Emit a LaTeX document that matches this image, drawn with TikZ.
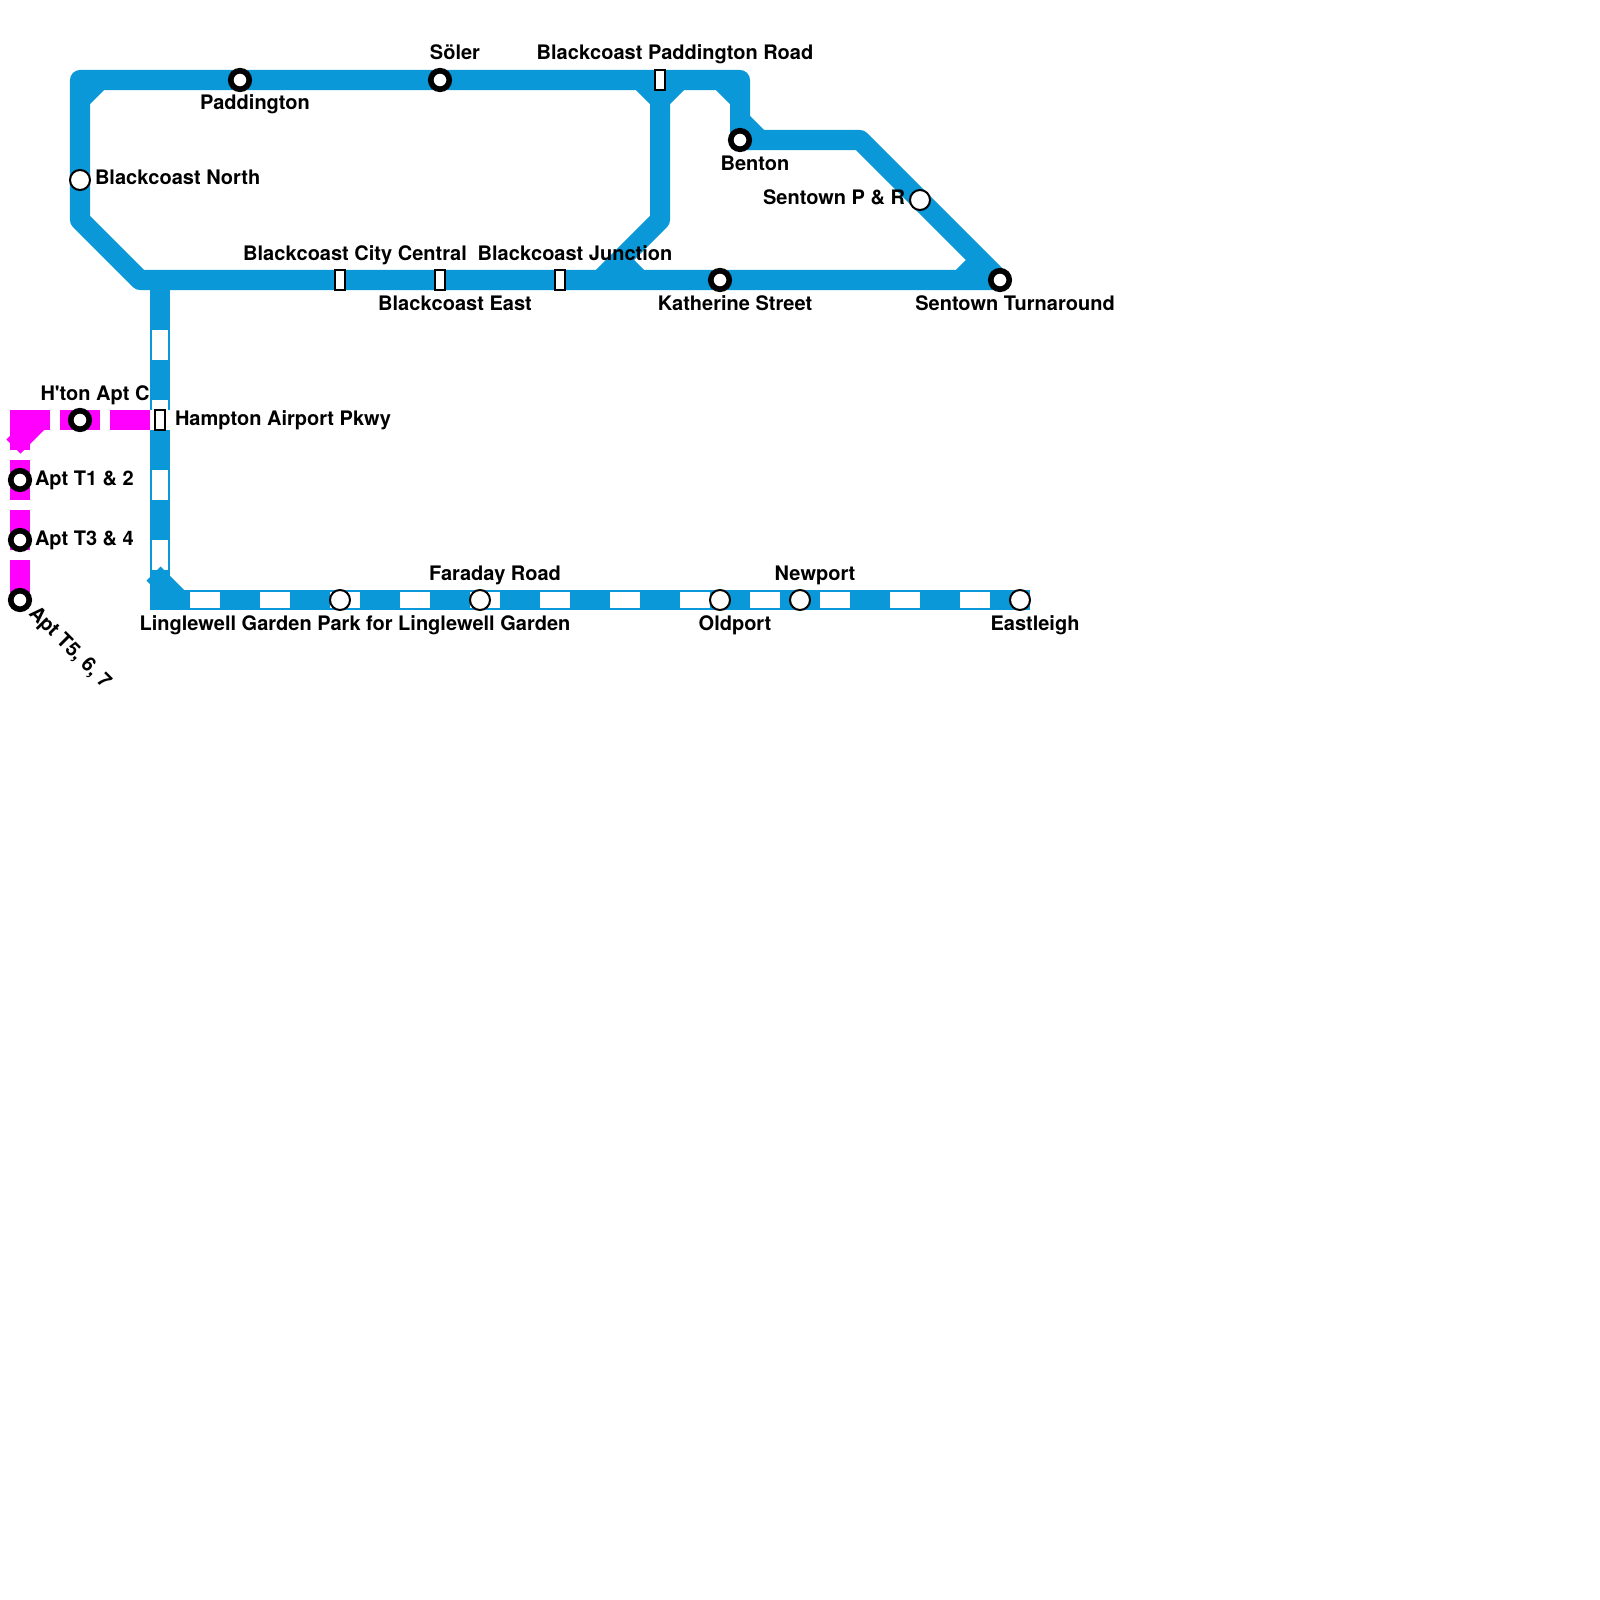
\documentclass[tikz,border=0pt]{standalone}
\usepackage{fontspec}
\usetikzlibrary{calc,backgrounds}
\newfontfamily\lblfont{TeX Gyre Heros}
\definecolor{lineblue}{HTML}{0A98D8}
\definecolor{linemag}{HTML}{FF00FF}
\tikzset{
lbl/.style={font=\lblfont\bfseries\fontsize{5.69pt}{6.8pt}\selectfont,text=black,inner sep=0pt,outer sep=0pt},
ic/.style={circle,draw=black,fill=white,line width=.056cm,minimum size=.185cm,inner sep=0pt,outer sep=0pt},
halt/.style={circle,draw=black,fill=white,line width=.02cm,minimum size=.2cm,inner sep=0pt,outer sep=0pt},
stn/.style={rectangle,draw=black,fill=white,line width=.018cm,minimum width=.1cm,minimum height=.2cm,inner sep=0pt,outer sep=0pt},
blue/.style={draw=lineblue,line width=.2cm,line join=round},
mag/.style={draw=linemag,line width=.2cm},
gapwhite/.style={draw=white,line width=.16cm,dash pattern=on .3cm off .4cm,dash phase=.4cm}
}
\begin{document}
\begin{tikzpicture}[x=.01cm,y=-.01cm]
\useasboundingbox (0,0) rectangle (1600,1600);
% stations
\foreach \n/\x/\y in {pad/240/80,soler/440/80,benton/740/140,kath/720/280,turn/1000/280,hton/80/420,t12/20/480,t34/20/540,t567/20/600}
\node[ic] (\n) at (\x,\y) {};
\foreach \n/\x/\y in {north/80/180,pr/920/200,ling/340/600,fara/480/600,old/720/600,newp/800/600,east/1020/600}
\node[halt] (\n) at (\x,\y) {};
\foreach \n/\x/\y in {padrd/660/80,city/340/280,beast/440/280,junc/560/280,pkwy/160/420}
\node[stn] (\n) at (\x,\y) {};
% labels above and below
\foreach \n/\t in {soler/Söler,padrd/Blackcoast Paddington Road,city/Blackcoast City Central,junc/Blackcoast Junction,hton/H'ton Apt C,fara/Faraday Road,newp/Newport}
\node[lbl,anchor=base] (\n-l) at ($(\n)+(15,-20)$) {\t};
\foreach \n/\t in {pad/Paddington,benton/Benton,beast/Blackcoast East,kath/Katherine Street,turn/Sentown Turnaround,ling/Linglewell Garden Park for Linglewell Garden,old/Oldport,east/Eastleigh}
\node[lbl,anchor=base] (\n-l) at ($(\n)+(15,30)$) {\t};
% labels at the side
\foreach \n/\t in {north/Blackcoast North,pkwy/Hampton Airport Pkwy,t12/Apt T1 \& 2,t34/Apt T3 \& 4}
\node[lbl,anchor=base west] (\n-l) at ($(\n)+(15,5)$) {\t};
\node[lbl,anchor=base east] (pr-l) at ($(pr)+(-15,5)$) {Sentown P \& R};
\node[lbl,anchor=base west,rotate=-45] (t567-l) at ($(t567)+(8,14)$) {Apt T5, 6, 7};
% corners
\foreach \n/\x/\y in {tl/80/80,tr/740/80,lb/80/220,bl/140/280,rt/860/140,rj/660/220,rb/600/280,
ca/80/100,cb/100/80,cc/640/80,cd/660/100,ce/680/80,cf/720/80,cg/740/100,ch/740/120,ci/760/140,
cj/620/260,ck/640/280,cl/960/280,cm/980/260,vt/160/280,vw/160/300,vb/160/600,he/1030/600,
hd/180/600,hc/153.5/573.5,mr/160/420,ms/170/420,ml/10/420,mb/20/600,mv/20/450,mt/20/420,mc/50/420,md/40/420,me/13.5/446.5}
\coordinate (\n) at (\x,\y);
\begin{scope}[on background layer]
% blue branch with white dashes
\draw[blue,line join=miter] (vt) -- (vb) -- (he);
\draw[gapwhite] (vb) -- (vw);
\draw[gapwhite] (vb) -- (he);
\draw[blue] (hd) -- (hc);
% blue loop
\draw[blue] (turn.center) -- (bl) -- (lb) -- (tl) -- (tr) -- (benton.center) -- (rt) -- (turn.center);
\draw[blue] (padrd.center) -- (rj) -- (rb);
\draw[blue] (ca) -- (cb);
\draw[blue] (cc) -- (cd) -- (ce);
\draw[blue] (cf) -- (cg);
\draw[blue] (ch) -- (ci);
\draw[blue] (cj) -- (ck);
\draw[blue] (cl) -- (cm);
% magenta branch
\draw[draw=white,line width=.2cm] (ms) -- (ml);
\draw[mag,dash pattern=on .4cm off .1cm,dash phase=.4cm] (mr) -- (ml);
\draw[mag,dash pattern=on .4cm off .1cm] (mb) -- (mv);
\draw[mag] (mv) -- (mt);
\draw[mag] (md) -- (me);
\end{scope}
\end{tikzpicture}
\end{document}
